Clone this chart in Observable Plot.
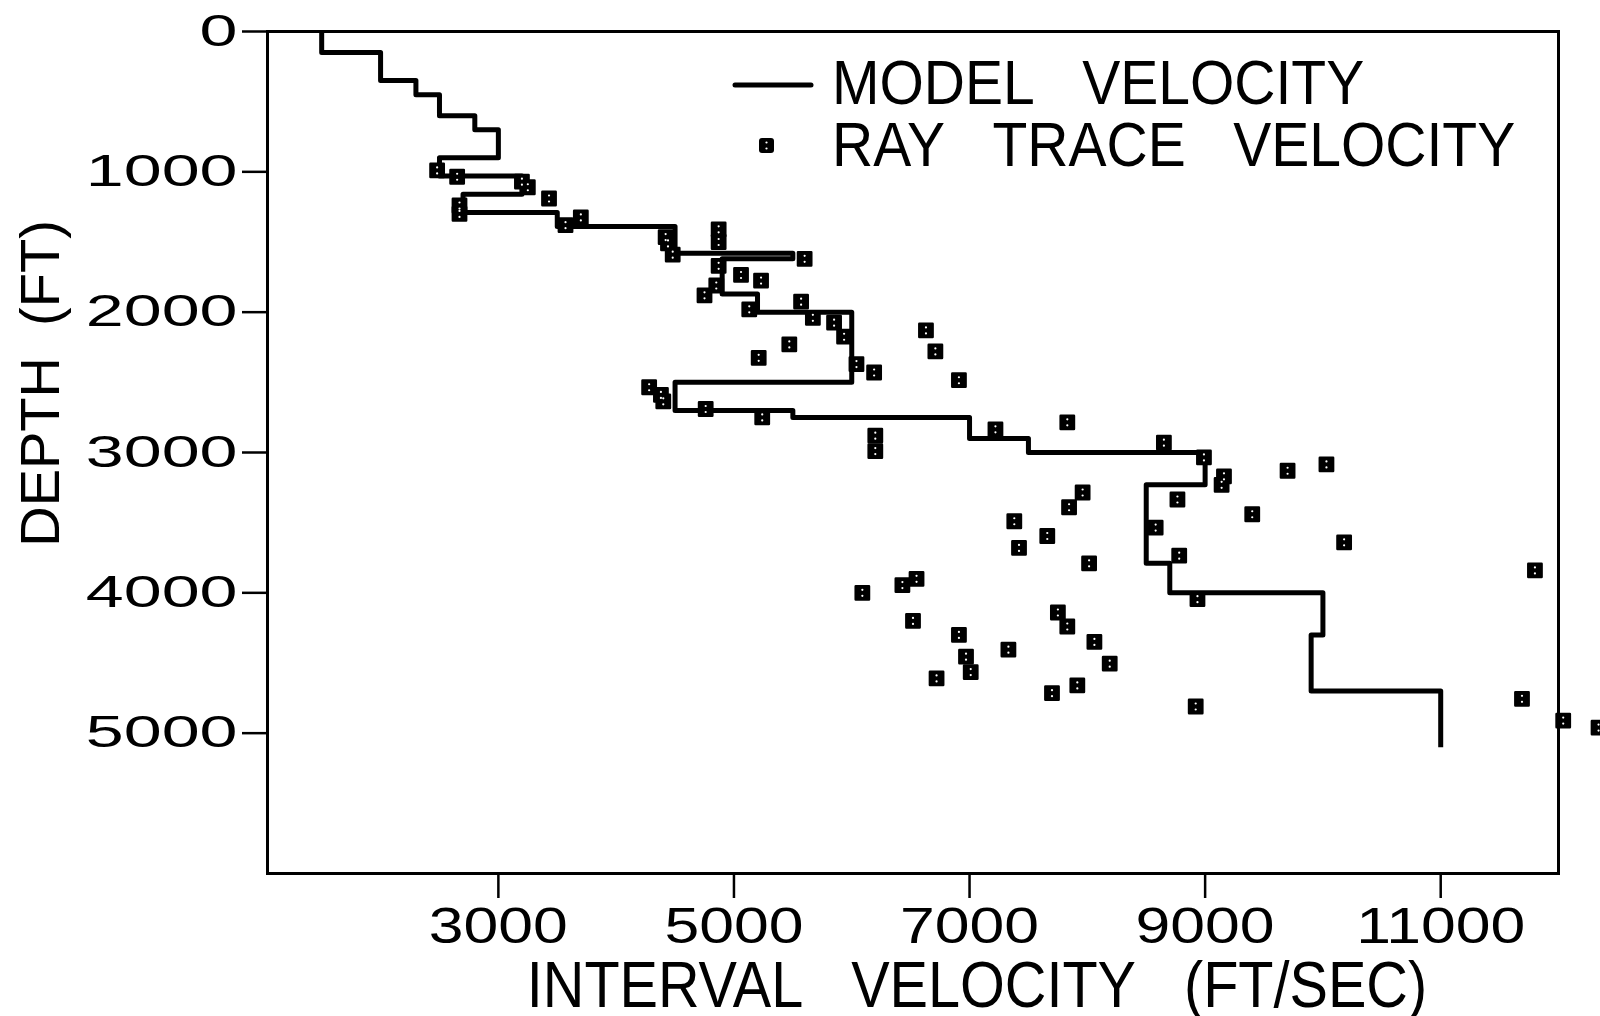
<!DOCTYPE html>
<html>
<head>
<meta charset="utf-8">
<script src="https://cdn.jsdelivr.net/npm/d3@7"></script>
<script src="https://cdn.jsdelivr.net/npm/@observablehq/plot@0.6"></script>
<style>
  html, body { margin: 0; padding: 0; background: #fff; }
  #chart { position: relative; width: 1600px; height: 1016px; overflow: hidden; }
</style>
</head>
<body>
<div id="chart"></div>
<script>
// ---- Model velocity: interval velocity of each layer and the depth of its base (ft)
const layerVelocity = [1500, 2000, 2300, 2500, 2800, 3000, 2500, 3200, 2700, 3500, 4500, 5500, 4900, 5200, 6000, 4500, 5500, 7000, 7500, 9000, 8500, 8700, 10000, 9900, 11000];
const layerBase     = [150,  350,  450,  600,  700,  900,  1030, 1160, 1290, 1390, 1580, 1620, 1870, 2000, 2500, 2700, 2750, 2900, 3000, 3230, 3790, 4000, 4300,  4700, 5100];

// ---- Ray trace velocity points
const rayVelocity = [2480, 2650, 3200, 3250, 3430, 2670, 2670, 3570, 3700, 4420, 4440, 4480, 4870, 4870, 5600, 4870, 5060, 5230, 4850, 4750,
                     5130, 5570, 5670, 5850, 5935, 5470, 5210, 6040, 6190, 4280, 4380, 4400, 4760, 5240, 6200, 6200, 6630, 6710, 6910, 7220,
                     7830, 7960, 7845, 7380, 7660, 7420, 8650, 8990, 9160, 9140, 9700, 10030, 8765, 9400, 10180, 8580, 8780, 8935, 8015, 6090,
                     6430, 6550, 6520, 7750, 7830, 6910, 6970, 7010, 6720, 7330, 8060, 8190, 7915, 7700, 8920, 11800, 11690, 12040, 12340];
const rayDepth    = [990,  1035, 1070, 1110, 1190, 1240, 1300, 1380, 1325, 1465, 1510, 1590, 1410, 1500, 1620, 1670, 1735, 1775, 1810, 1880,
                     1980, 1925, 2040, 2075, 2175, 2230, 2325, 2370, 2430, 2535, 2590, 2635, 2690, 2750, 2880, 2990, 2130, 2280, 2485, 2835,
                     2785, 3285, 3390, 3490, 3595, 3680, 2930, 3035, 3170, 3230, 3130, 3085, 3335, 3440, 3640, 3535, 3735, 4045, 3790, 4000,
                     3945, 3900, 4200, 4140, 4240, 4300, 4455, 4565, 4610, 4405, 4350, 4505, 4660, 4715, 4810, 3840, 4755, 4910, 4960];

// ---- Axes
const xTicks = [3000, 5000, 7000, 9000, 11000];
const yTicks = [0, 1000, 2000, 3000, 4000, 5000];
const xDomain = [1040, 12000];
const yDomain = [0, 6000];
const xTitle = "INTERVAL\u00A0\u00A0\u00A0VELOCITY\u00A0\u00A0\u00A0(FT/SEC)";
const yTitle = "DEPTH\u00A0\u00A0(FT)";
const legendLabels = ["MODEL\u00A0\u00A0\u00A0VELOCITY", "RAY\u00A0\u00A0\u00A0TRACE\u00A0\u00A0\u00A0VELOCITY"];

// Build tables
const modelPath = layerVelocity.flatMap((v, i) => [
  {v, d: i === 0 ? 0 : layerBase[i - 1]},
  {v, d: layerBase[i]}
]);
const rays = rayVelocity.map((v, i) => ({v, d: rayDepth[i]}));

const FONT = "'Liberation Sans', Arial, Helvetica, sans-serif";

const plot = Plot.plot({
  width: 1600,
  height: 1016,
  marginLeft: 267,
  marginRight: 42,
  marginTop: 31,
  marginBottom: 143,
  style: {fontFamily: FONT, background: "#fff", color: "#000", overflow: "visible"},
  x: {domain: xDomain},
  y: {domain: yDomain, reverse: true},
  marks: [
    Plot.frame({stroke: "#000", strokeWidth: 3}),
    Plot.axisX({ticks: xTicks, tickSize: 25, tickPadding: 9, fontSize: 50, strokeWidth: 2.5, label: null, tickFormat: "d"}),
    Plot.axisY({ticks: yTicks, tickSize: 25, tickPadding: 5, fontSize: 44, strokeWidth: 2.5, label: null, tickFormat: "d"}),
    Plot.line(modelPath, {x: "v", y: "d", stroke: "#000", strokeWidth: 5, strokeLinejoin: "round", strokeLinecap: "butt"}),
    Plot.dot(rays, {x: "v", y: "d", symbol: "square", r: 7.5, fill: "#000", stroke: "#000", strokeWidth: 2.5, strokeLinejoin: "round"}),
    Plot.dot(rays, {x: "v", y: "d", r: 1.1, fill: "#fff", dy: -3}),
    Plot.dot(rays, {x: "v", y: "d", r: 1.1, fill: "#fff", dy: 3}),
    Plot.text([xTitle], {text: d => d, frameAnchor: "bottom", lineAnchor: "top", textAnchor: "middle", dx: 64, dy: 88, fontSize: 64}),
    Plot.text([yTitle], {text: d => d, frameAnchor: "left", rotate: -90, lineAnchor: "middle", textAnchor: "middle", dx: -226, dy: -69, fontSize: 56})
  ]
});

document.getElementById("chart").appendChild(plot);

// Horizontal stretch of text glyphs to match the scanned figure
function stretch(sel, sx) {
  sel.each(function() {
    const t = this.getAttribute("transform") || "";
    if (t) {
      this.setAttribute("transform", t + ` scale(${sx},1)`);
    } else {
      const x = +this.getAttribute("x") || 0, y = +this.getAttribute("y") || 0;
      this.removeAttribute("x"); this.removeAttribute("y");
      this.setAttribute("transform", `translate(${x},${y}) scale(${sx},1)`);
    }
  });
}
const svg = d3.select(plot);
const xTickStr = xTicks.map(String), yTickStr = yTicks.map(String);
const allText = svg.selectAll("text");
stretch(allText.filter(function() {
  return xTickStr.includes(this.textContent) && this.closest("g").getAttribute("aria-label") === "x-axis tick label";
}), 1.25);
stretch(allText.filter(function() {
  return yTickStr.includes(this.textContent) && this.closest("g").getAttribute("aria-label") === "y-axis tick label";
}), 1.55);
stretch(allText.filter(function() { return this.textContent === xTitle; }), 0.9);

// Legend (inside the frame, upper right)
const lg = svg.append("g").attr("font-family", FONT).attr("fill", "#000").attr("text-anchor", "start");
lg.append("line").attr("x1", 735).attr("x2", 811).attr("y1", 85).attr("y2", 85)
  .attr("stroke", "#000").attr("stroke-width", 5).attr("stroke-linecap", "round");
lg.append("rect").attr("x", 759).attr("y", 138).attr("width", 15).attr("height", 15).attr("rx", 3).attr("fill", "#000");
lg.append("circle").attr("cx", 766.5).attr("cy", 142.5).attr("r", 1.1).attr("fill", "#fff");
lg.append("circle").attr("cx", 766.5).attr("cy", 148.5).attr("r", 1.1).attr("fill", "#fff");
lg.selectAll("text.leg").data(legendLabels).join("text")
  .attr("class", "leg")
  .attr("text-anchor", "start")
  .attr("transform", (d, i) => `translate(832,${i === 0 ? 104 : 166}) scale(0.905,1)`)
  .attr("font-size", 63)
  .text(d => d);
</script>
</body>
</html>
